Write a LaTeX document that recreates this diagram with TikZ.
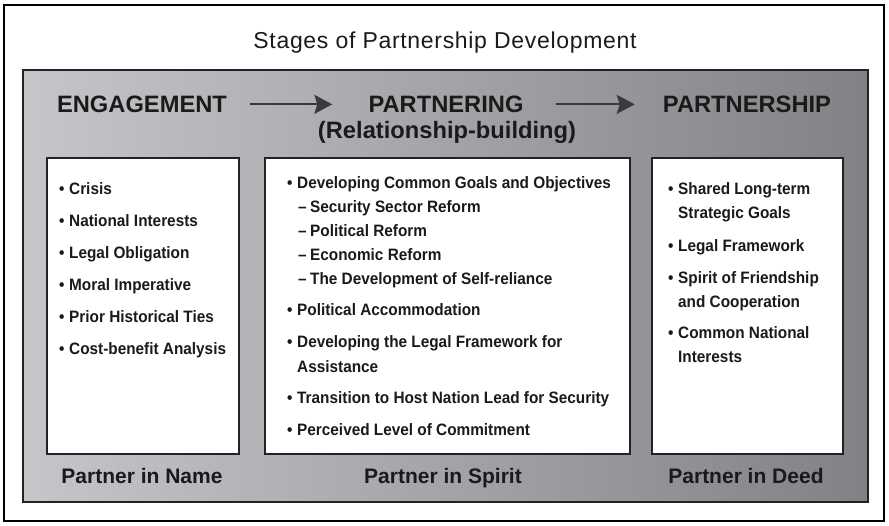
\documentclass[tikz,border=0pt]{standalone}
\usepackage{fontspec}
\setmainfont{Liberation Sans}
\newfontfamily\itemfont{Liberation Sans}[FakeStretch=0.93]
\newfontfamily\titlefont{Liberation Sans}[LetterSpace=3]
\usepackage{tikz}
\usetikzlibrary{arrows.meta}

\definecolor{panelLight}{HTML}{C4C6C9}
\definecolor{panelDark}{HTML}{808285}
\definecolor{edgeDark}{HTML}{222222}
\definecolor{arrowGray}{HTML}{3A3A3A}
\definecolor{inkBlack}{HTML}{1A1A1A}

\newcommand{\bul}{\makebox[10pt][l]{\textbullet}}
\newcommand{\dsh}{\hspace*{11pt}\makebox[12pt][l]{\textendash}}
\newcommand{\cont}{\hspace*{10pt}}

\begin{document}
\begin{tikzpicture}[x=1pt, y=-1pt, line join=miter,
    stagebox/.style={draw=edgeDark, line width=2pt, fill=white, inner sep=0pt},
    heading/.style={font=\fontsize{23.7}{28}\selectfont\bfseries,
      text=inkBlack, inner sep=0pt, anchor=base},
    footer/.style={font=\fontsize{21}{25}\selectfont\bfseries,
      text=inkBlack, inner sep=0pt, anchor=base},
    item/.style={font=\itemfont\fontsize{16.5}{24}\selectfont\bfseries,
      text=inkBlack, inner sep=0pt, anchor=base west},
    stagearrow/.style={-{Stealth[length=18pt,width=19pt,inset=3pt]},
      line width=2pt, draw=arrowGray, fill=arrowGray}]

  \useasboundingbox (0,0) rectangle (889,525);

  %--- Outer frame and title ------------------------------------------------
  \draw[line width=1.5pt] (4,5) rectangle (884,521);
  \node[font=\titlefont\fontsize{23}{27}\selectfont, text=inkBlack, anchor=base,
        inner sep=0pt] (title) at (445,48) {Stages of Partnership Development};

  %--- Shaded panel ----------------------------------------------------------
  \shade[left color=panelLight, right color=panelDark, draw=edgeDark,
         line width=1.5pt] (23,70) rectangle (868,502);

  %--- Stage headings and arrows --------------------------------------------
  \node[heading] (engage)      at (142,112.5) {ENGAGEMENT};
  \node[heading] (partnering)  at (446,112.5) {PARTNERING};
  \node[heading] (relbuild)    at (447,138)   {(Relationship-building)};
  \node[heading] (partnership) at (747,112.5) {PARTNERSHIP};

  \draw[stagearrow] ([xshift=23pt]engage.east) -- ([xshift=-36pt]partnering.west);
  \draw[stagearrow] ([xshift=32pt]partnering.east) -- ([xshift=-28pt]partnership.west);

  %--- White boxes -----------------------------------------------------------
  \node[stagebox, minimum width=192pt, minimum height=296pt] (engbox)  at (143,306)   {};
  \node[stagebox, minimum width=365pt, minimum height=296pt] (spirbox) at (447.5,306) {};
  \node[stagebox, minimum width=191pt, minimum height=296pt] (deedbox) at (747.5,306) {};

  %--- Engagement list -------------------------------------------------------
  \foreach \yy/\tx [count=\i] in {194/\bul Crisis, 226/\bul National Interests,
      258/\bul Legal Obligation, 290/\bul Moral Imperative,
      322/\bul Prior Historical Ties, 354/\bul Cost-benefit Analysis}
    \node[item] (eng\i) at (59,\yy) {\tx};

  %--- Partnering list -------------------------------------------------------
  \foreach \yy/\tx [count=\i] in {188/\bul Developing Common Goals and Objectives,
      212/\dsh Security Sector Reform, 236/\dsh Political Reform,
      260/\dsh Economic Reform, 284/\dsh The Development of Self-reliance,
      315/\bul Political Accommodation,
      347/\bul Developing the Legal Framework for, 372/\cont Assistance,
      403/\bul Transition to Host Nation Lead for Security,
      435/\bul Perceived Level of Commitment}
    \node[item] (spir\i) at (287,\yy) {\tx};

  %--- Partnership list ------------------------------------------------------
  \foreach \yy/\tx [count=\i] in {194/\bul Shared Long-term, 218/\cont Strategic Goals,
      251/\bul Legal Framework, 283/\bul Spirit of Friendship,
      307/\cont and Cooperation, 338/\bul Common National, 362/\cont Interests}
    \node[item] (deed\i) at (668,\yy) {\tx};

  %--- Footers ---------------------------------------------------------------
  \node[footer] (inname)   at (142,483) {Partner in Name};
  \node[footer] (inspirit) at (443,483) {Partner in Spirit};
  \node[footer] (indeed)   at (746,483) {Partner in Deed};

\end{tikzpicture}
\end{document}
